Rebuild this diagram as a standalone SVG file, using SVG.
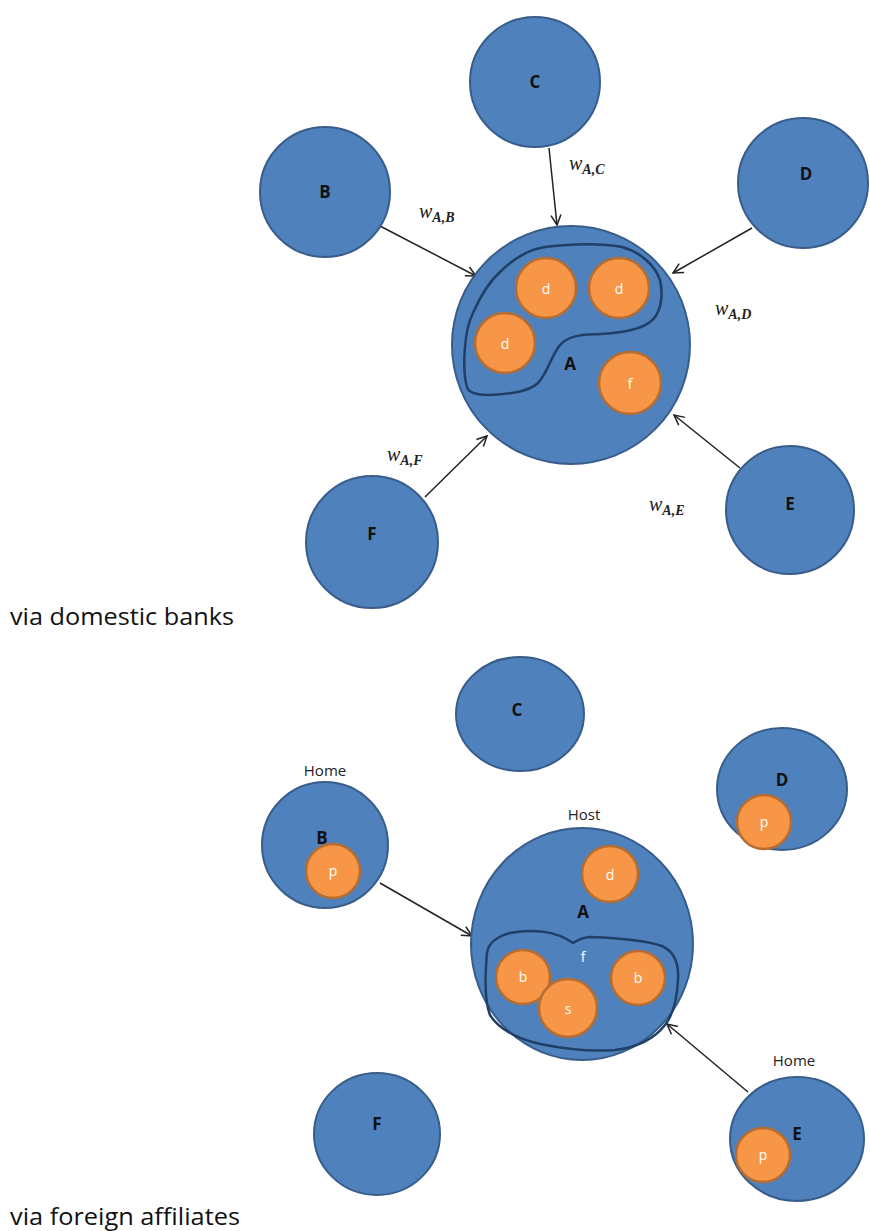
<svg xmlns="http://www.w3.org/2000/svg" width="870" height="1231" viewBox="0 0 870 1231">
<style>
.big{fill:#4f81bd;stroke:#385d8a;stroke-width:2}
.small{fill:#f79646;stroke:#b66d31;stroke-width:2.5}
.blob{fill:none;stroke:#1f3f66;stroke-width:2.5;stroke-linejoin:round}
.lbl{font-family:"Open Sans","DejaVu Sans",sans-serif;font-weight:bold;font-size:17px;fill:#111;text-anchor:middle}
.sl{font-family:"Open Sans","DejaVu Sans",sans-serif;font-size:14px;fill:#fff;text-anchor:middle}
.cap{font-family:"Open Sans","Liberation Sans",sans-serif;font-size:23px;fill:#111}
.note{font-family:"Open Sans","Liberation Sans",sans-serif;font-size:15px;fill:#222;text-anchor:middle}
.w{font-family:"Liberation Serif",serif;font-style:italic;font-size:20px;fill:#222}
.ws{font-size:14px;font-weight:bold}
.arr{stroke:#222;stroke-width:1.5;fill:none;marker-end:url(#ah)}
</style>
<defs>
<marker id="ah" viewBox="0 0 12 12" refX="11" refY="6" markerWidth="12" markerHeight="12" markerUnits="userSpaceOnUse" orient="auto">
<path d="M1,1 L11,6 L1,11" fill="none" stroke="#222" stroke-width="1.5"/>
</marker>
</defs>
<g id="connectors">
<line class="arr" x1="549" y1="148" x2="557" y2="225"/>
<line class="arr" x1="380" y1="226" x2="476" y2="276"/>
<line class="arr" x1="752" y1="228" x2="673" y2="273"/>
<line class="arr" x1="740" y1="468" x2="674" y2="415"/>
<line class="arr" x1="425" y1="497" x2="487" y2="436"/>
<line class="arr" x1="380" y1="883" x2="472" y2="936"/>
<line class="arr" x1="748" y1="1092" x2="667" y2="1024"/>
</g>
<g id="weights">
<text class="w" x="569" y="170">w<tspan class="ws" dy="4">A,C</tspan></text>
<text class="w" x="419" y="218">w<tspan class="ws" dy="4">A,B</tspan></text>
<text class="w" x="715" y="315">w<tspan class="ws" dy="4">A,D</tspan></text>
<text class="w" x="649" y="511">w<tspan class="ws" dy="4">A,E</tspan></text>
<text class="w" x="387" y="461">w<tspan class="ws" dy="4">A,F</tspan></text>
</g>
<g id="top-C"><circle class="big" cx="535" cy="82" r="65"/><text class="lbl" x="535" y="88">C</text></g>
<g id="top-B"><circle class="big" cx="325" cy="192" r="65"/><text class="lbl" x="325" y="198">B</text></g>
<g id="top-D"><circle class="big" cx="803" cy="183" r="65"/><text class="lbl" x="806" y="180">D</text></g>
<g id="top-F"><circle class="big" cx="372" cy="542" r="66"/><text class="lbl" x="372" y="540">F</text></g>
<g id="top-E"><circle class="big" cx="790" cy="510" r="64"/><text class="lbl" x="790" y="510">E</text></g>
<g id="top-A">
<circle class="big" cx="571" cy="345" r="119"/>
<path class="blob" d="M467,387 C462,370 464,330 473,313 C481,295 490,281 500,272 C511,261 525,250 545,247 C570,244 600,243 622,247 C640,252 655,265 660,280 C664,298 660,315 650,322 C640,330 620,333 600,334 C585,335 570,334 560,345 C550,358 548,372 538,383 C528,392 510,394 490,395 C475,395 468,392 467,387 Z"/>
<circle class="small" cx="546" cy="288" r="30"/><text class="sl" x="546" y="294">d</text>
<circle class="small" cx="619" cy="288" r="30"/><text class="sl" x="619" y="294">d</text>
<circle class="small" cx="505" cy="343" r="30"/><text class="sl" x="505" y="349">d</text>
<circle class="small" cx="630" cy="383" r="31"/><text class="sl" x="630" y="389">f</text>
<text class="lbl" x="570" y="370">A</text>
</g>
<text class="cap" x="10" y="625" textLength="224" lengthAdjust="spacingAndGlyphs">via domestic banks</text>
<g id="bot-C"><ellipse class="big" cx="520" cy="714" rx="64" ry="57"/><text class="lbl" x="517" y="716">C</text></g>
<g id="bot-B">
<text class="note" x="325" y="776">Home</text>
<circle class="big" cx="325" cy="845" r="63"/>
<text class="lbl" x="322" y="844">B</text>
<circle class="small" cx="333" cy="871" r="27"/><text class="sl" x="333" y="876">p</text>
</g>
<g id="bot-D">
<ellipse class="big" cx="782" cy="789" rx="65" ry="61"/>
<text class="lbl" x="782" y="786">D</text>
<circle class="small" cx="764" cy="822" r="27"/><text class="sl" x="764" y="827">p</text>
</g>
<g id="bot-E">
<text class="note" x="794" y="1066">Home</text>
<ellipse class="big" cx="797" cy="1139" rx="67" ry="62"/>
<text class="lbl" x="797" y="1140">E</text>
<circle class="small" cx="763" cy="1155" r="27"/><text class="sl" x="763" y="1160">p</text>
</g>
<g id="bot-F"><ellipse class="big" cx="377" cy="1134" rx="63" ry="61"/><text class="lbl" x="377" y="1130">F</text></g>
<g id="bot-A">
<text class="note" x="584" y="820">Host</text>
<ellipse class="big" cx="582" cy="944" rx="111" ry="116"/>
<circle class="small" cx="610" cy="874" r="28"/><text class="sl" x="610" y="880">d</text>
<text class="lbl" x="583" y="918">A</text>
<path class="blob" d="M487,953 C488,945 495,937 510,933 C530,929 555,930 573,943 C578,940 583,937 590,937 C615,938 645,940 662,946 C675,952 679,965 678,980 C677,1000 673,1015 665,1025 C655,1038 640,1047 615,1050 C590,1052 565,1049 540,1044 C515,1038 498,1028 490,1015 C484,1000 485,975 487,953 Z"/>
<text class="sl" x="583" y="962">f</text>
<circle class="small" cx="523" cy="977" r="27"/><text class="sl" x="523" y="982">b</text>
<circle class="small" cx="638" cy="978" r="27"/><text class="sl" x="638" y="983">b</text>
<circle class="small" cx="568" cy="1008" r="29"/><text class="sl" x="568" y="1014">s</text>
</g>
<text class="cap" x="10" y="1225" textLength="230" lengthAdjust="spacingAndGlyphs">via foreign affiliates</text>
</svg>
